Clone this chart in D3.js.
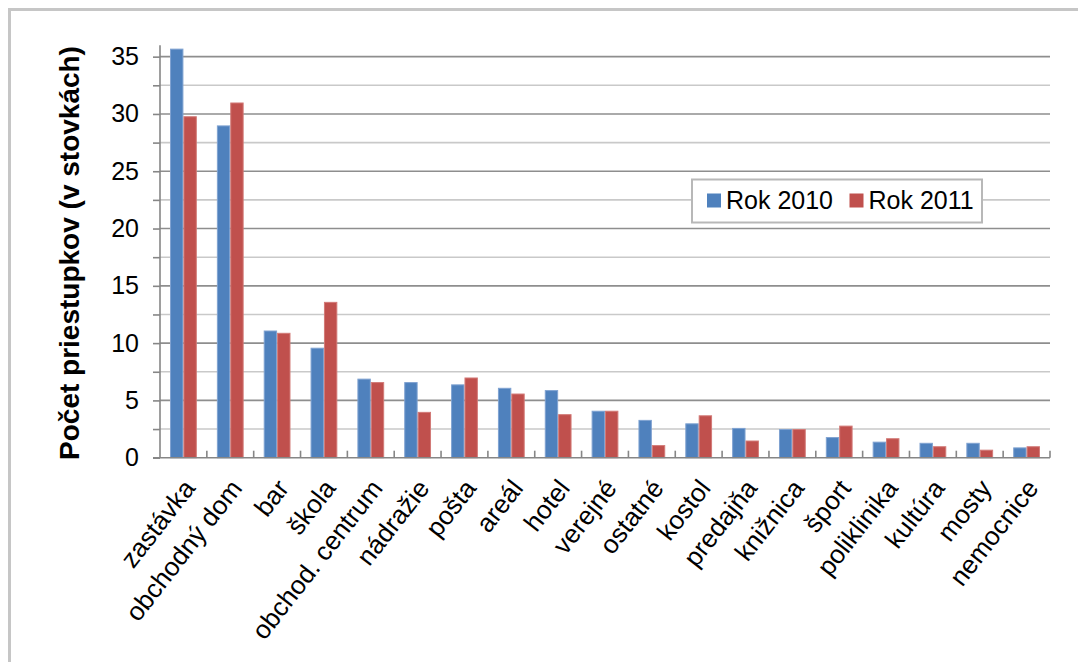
<!DOCTYPE html>
<html>
<head>
<meta charset="utf-8">
<script src="https://cdn.jsdelivr.net/npm/d3@7"></script>
<style>
  html, body { margin: 0; padding: 0; background: #fff; }
  svg { display: block; }
  text { font-family: "Liberation Sans", Arial, sans-serif; fill: #000; }
</style>
</head>
<body>
<svg id="chart" width="1078" height="662"></svg>
<script>
// Categories of places and counts of offences (hundreds) per year
const categories = ["zastávka", "obchodný dom", "bar", "škola", "obchod. centrum", "nádražie",
  "pošta", "areál", "hotel", "verejné", "ostatné", "kostol", "predajňa", "knižnica",
  "šport", "poliklinika", "kultúra", "mosty", "nemocnice"];
const rok2010 = [35.7, 29.0, 11.1, 9.6, 6.9, 6.6, 6.4, 6.1, 5.9, 4.1, 3.3, 3.0, 2.6, 2.5, 1.8, 1.4, 1.3, 1.3, 0.9];
const rok2011 = [29.8, 31.0, 10.9, 13.6, 6.6, 4.0, 7.0, 5.6, 3.8, 4.1, 1.1, 3.7, 1.5, 2.5, 2.8, 1.7, 1.0, 0.7, 1.0];
const seriesNames = ["Rok 2010", "Rok 2011"];
const seriesColors = ["#4F81BD", "#C0504D"];
const seriesEdges = ["#7fa2d1", "#d27a77"];
const yTickLabels = [0, 5, 10, 15, 20, 25, 30, 35];
const yMax = 36;

const series = [rok2010, rok2011];
const svg = d3.select("#chart");

// Outer frame of the chart area
svg.append("rect")
  .attr("x", 9.5).attr("y", 9.5)
  .attr("width", 1200).attr("height", 800)
  .attr("fill", "#fff").attr("stroke", "#c6c6c6").attr("stroke-width", 3);

const plot = { left: 160, right: 1050, top: 45.2, bottom: 457.7 };

const x0 = d3.scaleBand().domain(categories).range([plot.left, plot.right]).paddingInner(0).paddingOuter(0);
const x1 = d3.scaleBand().domain(seriesNames).range([0, x0.bandwidth()]).paddingInner(0).paddingOuter(0.75);
const y = d3.scaleLinear().domain([0, yMax]).range([plot.bottom, plot.top]);

// Gridlines every 2.5, darker on labelled values
const gridValues = d3.range(2.5, yMax, 2.5);
svg.append("g").selectAll("line").data(gridValues).join("line")
  .attr("x1", plot.left).attr("x2", plot.right)
  .attr("y1", d => y(d)).attr("y2", d => y(d))
  .attr("stroke", d => yTickLabels.includes(d) ? "#8e8e8e" : "#c9c9c9")
  .attr("stroke-width", 1.6);

// Bars
const groups = svg.append("g").selectAll("g").data(categories).join("g")
  .attr("transform", d => `translate(${x0(d)},0)`);
groups.selectAll("rect")
  .data((d, i) => series.map((s, k) => ({ key: seriesNames[k], k, v: s[i] })))
  .join("rect")
  .attr("x", d => x1(d.key) + 0.5)
  .attr("width", x1.bandwidth() - 1)
  .attr("y", d => y(d.v) + 0.5)
  .attr("height", d => y(0) - y(d.v) - 0.5)
  .attr("fill", d => seriesColors[d.k])
  .attr("stroke", d => seriesEdges[d.k])
  .attr("stroke-width", 1);

// Y axis
const yAxis = d3.axisLeft(y)
  .tickValues(d3.range(0, yMax, 2.5))
  .tickSize(7)
  .tickPadding(14)
  .tickFormat(d => yTickLabels.includes(d) ? d3.format("d")(d) : "");
const yg = svg.append("g").attr("transform", `translate(${plot.left},0)`).call(yAxis);
yg.select(".domain").attr("stroke", "#868686").attr("stroke-width", 1.6)
  .attr("d", `M0,${plot.top}V${plot.bottom}`);
yg.selectAll(".tick line").attr("stroke", "#868686").attr("stroke-width", 1.6);
yg.selectAll(".tick text").attr("font-size", 25).attr("fill", "#000")
  .attr("font-family", "'Liberation Sans', Arial, sans-serif");

// X axis with category boundary ticks pointing up
const xg = svg.append("g").attr("transform", `translate(0,${plot.bottom})`);
xg.append("line").attr("x1", plot.left - 7).attr("x2", plot.right)
  .attr("stroke", "#868686").attr("stroke-width", 1.6);
xg.selectAll("line.bnd").data(categories).join("line").attr("class", "bnd")
  .attr("x1", d => x0(d) + x0.step()).attr("x2", d => x0(d) + x0.step())
  .attr("y1", 0).attr("y2", -7)
  .attr("stroke", "#868686").attr("stroke-width", 1.6);
xg.selectAll("text").data(categories).join("text")
  .attr("transform", d => `translate(${x0(d) + x0.bandwidth() / 2 + 13},${31}) rotate(-52)`)
  .attr("text-anchor", "end")
  .attr("font-size", 26)
  .text(d => d);

// Y axis title
svg.append("text")
  .attr("transform", `translate(79,${253}) rotate(-90)`)
  .attr("text-anchor", "middle")
  .attr("font-size", 28)
  .attr("font-weight", "bold")
  .text("Počet priestupkov (v stovkách)");

// Legend
const legend = svg.append("g");
legend.append("rect")
  .attr("x", 692).attr("y", 179.5).attr("width", 290).attr("height", 43)
  .attr("fill", "#fff").attr("stroke", "#b8b8b8").attr("stroke-width", 2);
const legendX = [707, 849.5];
seriesNames.forEach((name, k) => {
  legend.append("rect")
    .attr("x", legendX[k]).attr("y", 193.5).attr("width", 14).attr("height", 14)
    .attr("fill", seriesColors[k]);
  legend.append("text")
    .attr("x", legendX[k] + 19).attr("y", 209)
    .attr("font-size", 25)
    .text(name);
});
</script>
</body>
</html>
